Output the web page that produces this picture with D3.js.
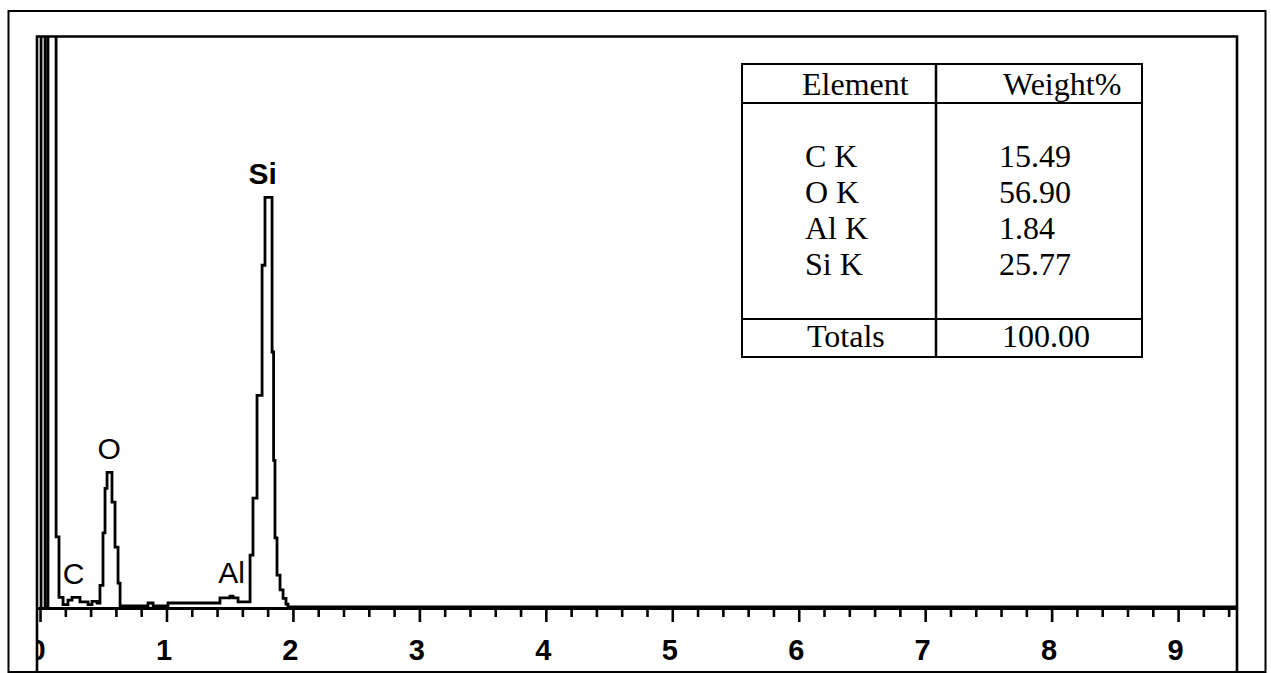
<!DOCTYPE html>
<html>
<head>
<meta charset="utf-8">
<script src="https://cdn.jsdelivr.net/npm/d3@7"></script>
<style>
  html, body { margin: 0; padding: 0; background: #fff; }
  svg { display: block; }
</style>
</head>
<body>
<svg id="chart" width="1271" height="673"></svg>
<script>
// EDS spectrum as a step histogram: left edge of each step (keV) and its counts
const binStart = [0, 0.008, 0.040, 0.063, 0.127, 0.150, 0.182, 0.221, 0.253, 0.316,
                  0.380, 0.411, 0.451, 0.474, 0.498, 0.514, 0.530, 0.569, 0.593, 0.617,
                  0.633, 0.854, 0.894, 1.012, 1.423, 1.503, 1.526, 1.566, 1.661, 1.684,
                  1.716, 1.756, 1.779, 1.835, 1.847, 1.858, 1.874, 1.898, 1.922, 1.945,
                  1.961];
const binCounts = [0, 1400, 0, 1400, 123, 17, 4, 12, 17, 9,
                   4, 10, 7, 38, 130, 208, 236, 184, 105, 42,
                   2, 7, 2, 7, 16, 19, 16, 9, 91, 191,
                   371, 599, 718, 447, 257, 121, 56, 30, 15, 5,
                   0];
const energyMin = -0.024;
const energyMax = 9.466;
const countsMax = 1000;

// Peak identification labels
const peakNames = ["C", "O", "Al", "Si"];
const peakEnergy = [0.265, 0.546, 1.514, 1.760];
const peakCounts = [17, 236, 19, 718];

// Energy axis
const majorTicks = [0, 1, 2, 3, 4, 5, 6, 7, 8, 9];
const majorTickLabels = ["0", "1", "2", "3", "4", "5", "6", "7", "8", "9"];
const minorStep = 0.2;

// Quantification table
const tableElements = ["C K", "O K", "Al K", "Si K"];
const tableWeights = [15.49, 56.90, 1.84, 25.77];
const tableHeader = ["Element", "Weight%"];
const tableTotalLabel = "Totals";
const tableTotal = 100.00;

// ---------------------------------------------------------------
const svg = d3.select("#chart");
const W = 1271, H = 673;
const plot = { left: 37, right: 1237, top: 36.5, base: 607 };

svg.append("rect").attr("width", W).attr("height", H).attr("fill", "#fff");

const x = d3.scaleLinear().domain([energyMin, energyMax]).range([plot.left, plot.right]);
const y = d3.scaleLinear().domain([0, countsMax]).range([plot.base, plot.top]);

// outer window frame
svg.append("rect")
  .attr("x", 8.5).attr("y", 11).attr("width", 1257).attr("height", 661)
  .attr("fill", "none").attr("stroke", "#000").attr("stroke-width", 2);

// clip region for the spectrum area
const defs = svg.append("defs");
defs.append("clipPath").attr("id", "plotClip")
  .append("rect")
  .attr("x", plot.left).attr("y", plot.top)
  .attr("width", plot.right - plot.left).attr("height", H - plot.top);

// spectrum trace
const pts = binStart.map((e, i) => [e, binCounts[i]]);
pts.push([energyMax, 0]);
const stepLine = d3.line()
  .x(d => x(d[0]))
  .y(d => y(d[1]))
  .curve(d3.curveStepAfter);

svg.append("path")
  .datum(pts)
  .attr("clip-path", "url(#plotClip)")
  .attr("d", stepLine)
  .attr("fill", "none")
  .attr("stroke", "#000")
  .attr("stroke-width", 2.8)
  .attr("stroke-linejoin", "miter");

// energy axis: minor ticks every 0.2 keV, labelled ticks every 1 keV
const minorTicks = d3.range(0, energyMax, minorStep).filter(v => Math.abs(v - Math.round(v)) > 1e-6);
const axisG = svg.append("g")
  .attr("transform", `translate(0,${plot.base + 1})`)
  .attr("clip-path", "url(#axisClip)");
defs.append("clipPath").attr("id", "axisClip")
  .append("rect")
  .attr("x", plot.left).attr("y", -10)
  .attr("width", plot.right - plot.left).attr("height", 100);

const minorAxis = d3.axisBottom(x).tickValues(minorTicks).tickSize(9).tickFormat("").tickSizeOuter(0);
const majorAxis = d3.axisBottom(x).tickValues(majorTicks).tickSize(14).tickSizeOuter(0)
  .tickFormat((d, i) => majorTickLabels[i]);

const gMinor = axisG.append("g").call(minorAxis);
const gMajor = axisG.append("g").call(majorAxis);
[gMinor, gMajor].forEach(g => {
  g.select(".domain").attr("stroke", "#000").attr("stroke-width", 3);
  g.selectAll(".tick line").attr("stroke", "#000").attr("stroke-width", 2.6);
});
gMajor.selectAll(".tick text")
  .attr("y", 52).attr("dy", 0).attr("dx", -3)
  .attr("fill", "#000")
  .style("font-family", "'Liberation Sans', Arial, sans-serif")
  .style("font-size", "29px")
  .style("font-weight", "700");

// plot frame: left, top and right edges
svg.append("path")
  .attr("d", `M${plot.left},${H} V${plot.top} H${plot.right} V${H}`)
  .attr("fill", "none").attr("stroke", "#000").attr("stroke-width", 2.6);

// peak labels
svg.append("g").selectAll("text")
  .data(peakNames)
  .join("text")
  .attr("x", (d, i) => x(peakEnergy[i]))
  .attr("y", (d, i) => y(peakCounts[i]) - 13)
  .attr("text-anchor", "middle")
  .attr("fill", "#000")
  .style("font-family", "'Liberation Sans', Arial, sans-serif")
  .style("font-size", "30px")
  .style("font-weight", d => d === "Si" ? 700 : 400)
  .text(d => d);

// quantification table
const tb = { left: 742, right: 1142, top: 64, headLine: 103, divider: 936, totalLine: 319, bottom: 357 };
const tg = svg.append("g");
tg.append("rect")
  .attr("x", tb.left).attr("y", tb.top)
  .attr("width", tb.right - tb.left).attr("height", tb.bottom - tb.top)
  .attr("fill", "#fff").attr("stroke", "#000").attr("stroke-width", 2);
tg.append("line").attr("x1", tb.left).attr("x2", tb.right).attr("y1", tb.headLine).attr("y2", tb.headLine)
  .attr("stroke", "#000").attr("stroke-width", 2);
tg.append("line").attr("x1", tb.left).attr("x2", tb.right).attr("y1", tb.totalLine).attr("y2", tb.totalLine)
  .attr("stroke", "#000").attr("stroke-width", 2);
tg.append("line").attr("x1", tb.divider).attr("x2", tb.divider).attr("y1", tb.top).attr("y2", tb.bottom)
  .attr("stroke", "#000").attr("stroke-width", 2.5);

const serif = "'Liberation Serif', 'Times New Roman', serif";
const col1 = 804, col2 = 999;
function cell(txt, cx, cy) {
  tg.append("text").attr("x", cx).attr("y", cy).attr("fill", "#000")
    .style("font-family", serif).style("font-size", "32px").text(txt);
}
cell(tableHeader[0], col1 - 2, 95);
cell(tableHeader[1], col2 + 4, 95);
const rowY = d3.scaleLinear().domain([0, tableElements.length - 1]).range([167, 275]);
tableElements.forEach((el, i) => {
  cell(el, col1 + 1, rowY(i));
  cell(tableWeights[i].toFixed(2), col2, rowY(i));
});
cell(tableTotalLabel, col1 + 3, 347);
cell(tableTotal.toFixed(2), col2 + 3, 347);
</script>
</body>
</html>
